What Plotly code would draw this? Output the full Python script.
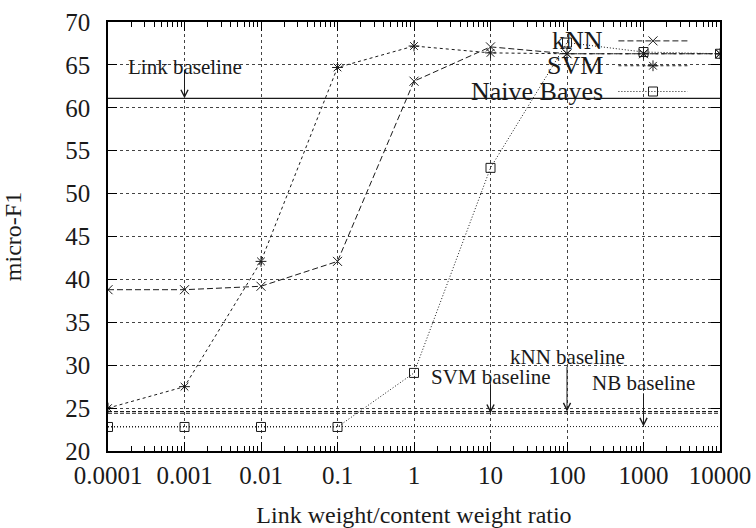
import numpy as np
import plotly.graph_objects as go

# ---------------- data ----------------
ratios = [0.0001, 0.001, 0.01, 0.1, 1, 10, 100, 1000, 10000]
x_tick_labels = ["0.0001", "0.001", "0.01", "0.1", "1", "10", "100", "1000", "10000"]
y_ticks = [20, 25, 30, 35, 40, 45, 50, 55, 60, 65, 70]

knn = [38.8, 38.8, 39.2, 42.1, 63.1, 67.1, 66.3, 66.3, 66.3]
svm = [25.0, 27.5, 42.1, 64.7, 67.2, 66.4, 66.3, 66.3, 66.3]
nb = [22.8, 22.8, 22.8, 22.8, 29.1, 53.0, 67.6, 66.5, 66.3]

series_names = ["kNN", "SVM", "Naive Bayes"]

baseline_labels = ["Link baseline", "SVM baseline", "kNN baseline", "NB baseline"]
baseline_values = [61.1, 24.4, 24.6, 22.85]
baseline_arrow_x = [0.001, 10, 100, 1000]
baseline_arrow_tail = [64.6, 27.9, 30.0, 26.9]
baseline_label_y = [64.7, 28.6, 31.0, 27.9]

# ---------------- styles ----------------
FONT = "Liberation Serif"
INK = "#1a1a1a"
styles = {
    "kNN": dict(dash="6px,3px", symbol="x-thin-open", size=9),
    "SVM": dict(dash="3px,3px", symbol="asterisk-open", size=9),
    "Naive Bayes": dict(dash="1px,2px", symbol="square-open", size=9),
}
values = {"kNN": knn, "SVM": svm, "Naive Bayes": nb}

fig = go.Figure()

# baselines (drawn across full x range)
x_full = [ratios[0], ratios[-1]]
baseline_dash = ["solid", "4px,2px", "4px,2px", "1px,2px"]
for v, d in zip(baseline_values, baseline_dash):
    fig.add_trace(go.Scatter(x=x_full, y=[v, v], mode="lines",
                             line=dict(color=INK, width=1.2 if d == "solid" else 1, dash=d),
                             showlegend=False, hoverinfo="skip"))

# series
for name in series_names:
    st = styles[name]
    fig.add_trace(go.Scatter(
        x=ratios, y=values[name], mode="lines+markers", name=name,
        line=dict(color=INK, width=1, dash=st["dash"]),
        marker=dict(symbol=st["symbol"], size=st["size"], color=INK,
                    line=dict(color=INK, width=1)),
        showlegend=False))

# legend samples on an overlay unit axis
leg_y = [0.956, 0.898, 0.838]
leg_x0, leg_x1, leg_text_x = 0.834, 0.947, 0.812
for name, ly in zip(series_names, leg_y):
    st = styles[name]
    fig.add_trace(go.Scatter(
        x=[leg_x0, leg_x1], y=[ly, ly], mode="lines", xaxis="x2", yaxis="y2",
        line=dict(color=INK, width=1, dash=st["dash"]), showlegend=False, hoverinfo="skip"))
    fig.add_trace(go.Scatter(
        x=[(leg_x0 + leg_x1) / 2], y=[ly], mode="markers", xaxis="x2", yaxis="y2",
        marker=dict(symbol=st["symbol"], size=st["size"], color=INK,
                    line=dict(color=INK, width=1)),
        showlegend=False, hoverinfo="skip"))

annotations = []
for name, ly in zip(series_names, leg_y):
    annotations.append(dict(text=name, x=leg_text_x, y=ly, xref="paper", yref="paper",
                            xanchor="right", yanchor="middle", showarrow=False,
                            font=dict(family=FONT, size=26, color=INK)))

# baseline labels and arrows
for lab, ax_x, tail, head, ty in zip(baseline_labels, baseline_arrow_x,
                                      baseline_arrow_tail, baseline_values, baseline_label_y):
    lx = float(np.log10(ax_x))
    annotations.append(dict(text=lab, x=lx, y=ty, xref="x", yref="y",
                            showarrow=False, xanchor="center", yanchor="middle",
                            font=dict(family=FONT, size=21, color=INK)))
    annotations.append(dict(text="", x=lx, y=head, xref="x", yref="y",
                            ax=lx, ay=tail, axref="x", ayref="y",
                            showarrow=True, arrowhead=5, arrowsize=1.4, arrowwidth=1,
                            arrowcolor=INK, standoff=0, startstandoff=0))

minor_vals = [m * 10.0 ** k for k in range(-4, 4) for m in range(2, 10)]

axis_common = dict(
    automargin=False,
    showline=True, linecolor="black", linewidth=1.5, mirror="allticks",
    ticks="inside", ticklen=9, tickwidth=1, tickcolor="black",
    showgrid=True, gridcolor="#444", griddash="dot", gridwidth=1,
    zeroline=False, tickfont=dict(family=FONT, size=25, color=INK),
)

fig.update_layout(
    width=756, height=528,
    margin=dict(l=108, r=36, t=22, b=77),
    paper_bgcolor="white", plot_bgcolor="white",
    showlegend=False,
    xaxis=dict(type="log", range=[-4, 4], tickvals=ratios, ticktext=x_tick_labels,
               minor=dict(tickvals=minor_vals, ticks="inside", ticklen=5, tickcolor="black",
                          showgrid=False),
               ticklabelstandoff=1,
               title=dict(text="Link weight/content weight ratio", standoff=20,
                          font=dict(family=FONT, size=24, color=INK)),
               **axis_common),
    yaxis=dict(range=[20, 70], tickvals=y_ticks, ticklabelstandoff=11,
               title=dict(text="micro-F1", standoff=44,
                          font=dict(family=FONT, size=24, color=INK)),
               **axis_common),
    xaxis2=dict(overlaying="x", range=[0, 1], visible=False, anchor="y2"),
    yaxis2=dict(overlaying="y", range=[0, 1], visible=False, anchor="x2"),
    annotations=annotations,
    shapes=[dict(type="rect", xref="paper", yref="paper", x0=0.531, x1=0.967,
                 y0=0.818, y1=0.997, fillcolor="white", line=dict(width=0),
                 layer="between")],
)

fig.write_html("out.html")
